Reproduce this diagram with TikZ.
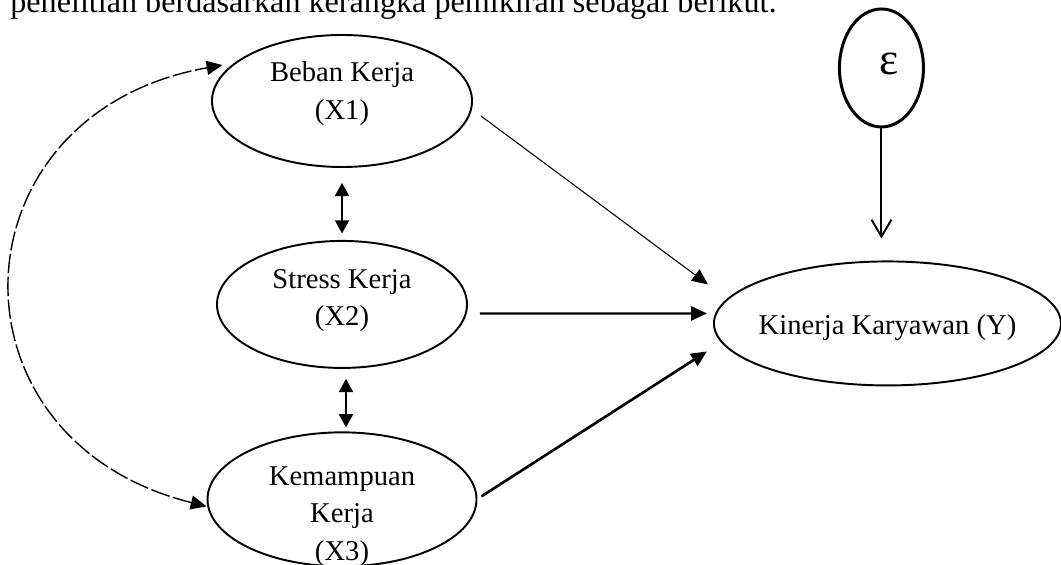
\documentclass[tikz,border=0pt]{standalone}
\usepackage{fontspec}
\setmainfont{Liberation Serif}
\usetikzlibrary{shapes,arrows.meta,positioning,calc}

\begin{document}
\begin{tikzpicture}[
    node distance=1.4cm and 4.9cm,
    var/.style={draw, ellipse, line width=1.1pt, inner sep=0pt},
    lbl/.style={align=center, inner sep=0pt, font=\fontsize{16.3}{21.3}\selectfont},
    arrow/.style={-{Triangle[length=9pt,width=8pt]}, line width=1.3pt, draw=black},
    both/.style={{Triangle[length=7.5pt,width=8pt]}-{Triangle[length=7.5pt,width=8pt]}, line width=1.1pt},
    corr/.style={{Triangle[length=9pt,width=8pt]}-{Triangle[length=9pt,width=8pt]}, line width=0.8pt, dash pattern=on 11pt off 2pt}
]
    \useasboundingbox (0,0) rectangle (21.22,-11.3);

    % Intro line (cut at the top)
    \node[anchor=base west, inner sep=0pt, font=\fontsize{18.3}{22}\selectfont] (intro) at (0.2,-0.26) {penelitian berdasarkan kerangka pemikiran sebagai berikut.};

    % Independent variables
    \node[var, minimum width=5.2cm, minimum height=2.64cm,
          label={[lbl, yshift=0.145cm]center:Beban Kerja\\(X1)}] (beban) at (6.84,-2.02) {};
    \node[var, minimum width=5.0cm, minimum height=2.54cm, below=1.44cm of beban,
          label={[lbl, yshift=0.075cm]center:Stress Kerja\\(X2)}] (stress) {};
    \node[var, minimum width=5.38cm, minimum height=2.68cm, below=1.25cm of stress,
          label={[lbl, yshift=-0.34cm]center:Kemampuan\\Kerja\\(X3)}] (kemampuan) {};

    % Dependent variable and error term
    \node[var, minimum width=6.94cm, minimum height=2.48cm, right=4.9cm of stress, yshift=-0.38cm,
          label={[lbl, yshift=-0.09cm]center:Kinerja Karyawan (Y)}] (kinerja) {};
    \node[var, line width=1.7pt, minimum width=1.68cm, minimum height=2.36cm, above=2.64cm of kinerja, xshift=-0.12cm,
          label={[lbl, font=\fontsize{26}{30}\selectfont, shift={(0.15,0.08)}]center:ε}] (eps) {};

    % Paths
    \draw[arrow, line width=0.6pt] ([shift={(0.16,-0.3)}]beban.east) -- ([shift={(-0.1,0.78)}]kinerja.west);
    \draw[arrow] ([shift={(0.24,-0.18)}]stress.east) -- ([shift={(-0.12,0.2)}]kinerja.west);
    \draw[arrow, line width=1.5pt] ([shift={(0.08,0.06)}]kemampuan.east) -- ([shift={(-0.12,-0.56)}]kinerja.west);

    \draw[-{Straight Barb[length=9.6pt,width=11.3pt]}, line width=1.1pt] (eps) -- ($(eps.south |- kinerja.north)+(0,0.44)$);

    % Correlations
    \draw[both] ([yshift=-0.3cm]beban.south) -- ([yshift=0.13cm]stress.north);
    \draw[both] ([shift={(0.08,-0.2)}]stress.south) -- ([shift={(0.08,0.08)}]kemampuan.north);
    \draw[corr] ([yshift=-0.14cm]kemampuan.west) to[out=166, in=190, looseness=1.6] ([xshift=-0.18cm]beban.162);

\end{tikzpicture}
\end{document}
